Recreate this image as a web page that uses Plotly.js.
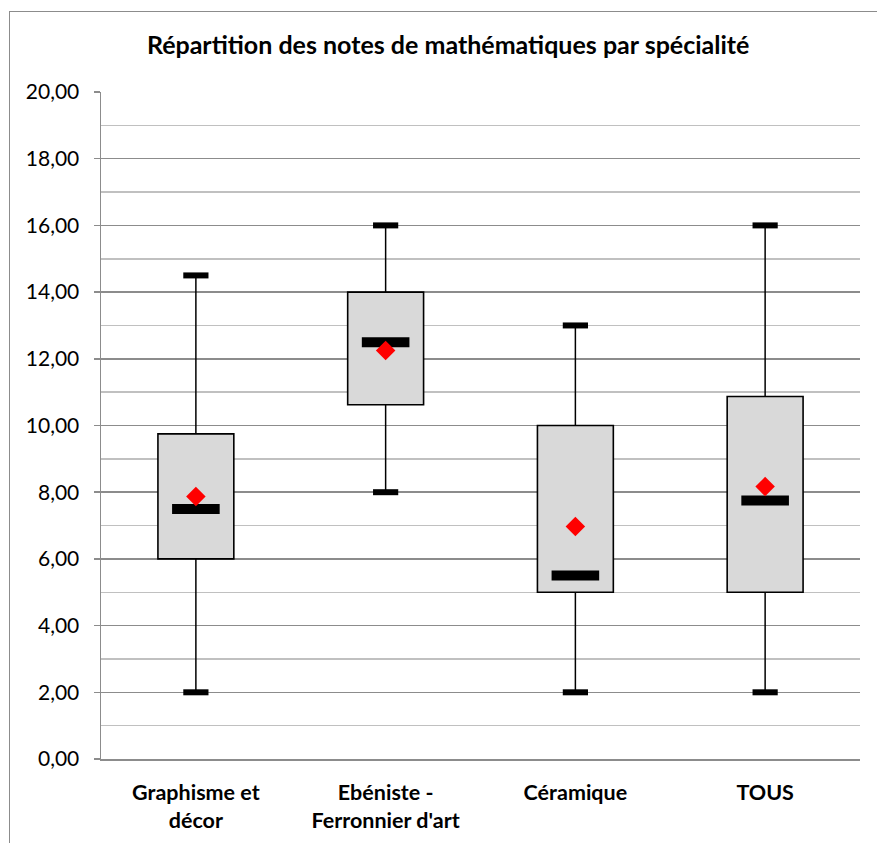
<!DOCTYPE html>
<html>
<head>
<meta charset="utf-8">
<script src="https://cdn.plot.ly/plotly-3.0.1.min.js"></script>
<style>
  html, body { margin: 0; padding: 0; background: #fff; overflow: hidden; }
  #wrap { position: relative; width: 877px; height: 843px; }
  #chart { position: absolute; left: 0; top: 0; width: 877px; height: 843px; }
  #frame { position: absolute; left: 9px; top: 11px; width: 900px; height: 900px;
           border: 1.5px solid #8c8c8c; pointer-events: none; }
</style>
</head>
<body>
<div id="wrap">
  <div id="chart"></div>
  <div id="frame"></div>
</div>
<script>
// ---- data ----
const categories = ["Graphisme et<br>décor", "Ebéniste -<br>Ferronnier d'art", "Céramique", "TOUS"];
const minVals    = [2, 8, 2, 2];
const q1Vals     = [6, 10.62, 5, 5];
const medianVals = [7.5, 12.5, 5.5, 7.75];
const q3Vals     = [9.75, 14, 10, 10.87];
const maxVals    = [14.5, 16, 13, 16];
const meanVals   = [7.87, 12.25, 6.97, 8.17];
const yTickVals  = [0, 2, 4, 6, 8, 10, 12, 14, 16, 18, 20];

const FONT = "Lato, 'Open Sans', 'Liberation Sans', sans-serif";

// whisker segments built from the arrays
const wx = [], wy = [];
categories.forEach((c, i) => {
  wx.push(c, c, null, c, c, null);
  wy.push(maxVals[i], q3Vals[i], null, q1Vals[i], minVals[i], null);
});

const traces = [
  {
    type: 'bar', x: categories,
    y: q3Vals.map((v, i) => v - q1Vals[i]),
    base: q1Vals, width: 0.4,
    marker: { color: '#d9d9d9', line: { color: '#000', width: 1.6 } },
    hoverinfo: 'skip', showlegend: false
  },
  {
    type: 'scatter', mode: 'lines', x: wx, y: wy,
    line: { color: '#000', width: 1.5 }, hoverinfo: 'skip', showlegend: false
  },
  {
    type: 'scatter', mode: 'markers',
    x: categories.concat(categories), y: minVals.concat(maxVals),
    marker: { symbol: 'line-ew', size: 18, color: '#000', line: { color: '#000', width: 6 } },
    showlegend: false
  },
  {
    type: 'scatter', mode: 'markers', x: categories, y: medianVals,
    marker: { symbol: 'line-ew', size: 34, color: '#000', line: { color: '#000', width: 10 } },
    showlegend: false
  },
  {
    type: 'scatter', mode: 'markers', x: categories, y: meanVals,
    marker: { symbol: 'diamond', size: 15, color: '#ff0000', line: { width: 0 } },
    showlegend: false
  }
];

const layout = {
  width: 877, height: 843,
  margin: { l: 101, r: 17, t: 92, b: 84 },
  paper_bgcolor: '#fff', plot_bgcolor: '#fff',
  separators: ', ',
  font: { family: FONT, size: 21, color: '#000' },
  title: {
    text: 'Répartition des notes de mathématiques par spécialité',
    font: { family: FONT, size: 25, weight: 'bold', color: '#000' },
    xref: 'container', x: 0.511, xanchor: 'center',
    yref: 'container', y: 0.946, yanchor: 'middle'
  },
  showlegend: false,
  barmode: 'overlay',
  xaxis: {
    type: 'category', range: [-0.5, 3.5],
    showgrid: false, zeroline: false,
    showline: true, linecolor: '#8c8c8c', linewidth: 1.5,
    ticks: '', tickfont: { family: FONT, size: 21.5, weight: 'bold', color: '#000' },
    ticklabelstandoff: 14
  },
  yaxis: {
    range: [0, 20], tickvals: yTickVals, tickformat: '.2f',
    showgrid: true, gridcolor: '#8c8c8c', gridwidth: 1.5,
    zeroline: false, showline: true, linecolor: '#8c8c8c', linewidth: 1.5,
    ticks: 'outside', ticklen: 6, tickcolor: '#8c8c8c', tickwidth: 1.5,
    tickfont: { family: FONT, size: 21, color: '#000' },
    ticklabelstandoff: 10,
    minor: { dtick: 1, tick0: 0, showgrid: true, gridcolor: '#c0c0c0', gridwidth: 1.5, ticks: '' }
  }
};

Plotly.newPlot('chart', traces, layout, { displayModeBar: false, staticPlot: true });
</script>
</body>
</html>
